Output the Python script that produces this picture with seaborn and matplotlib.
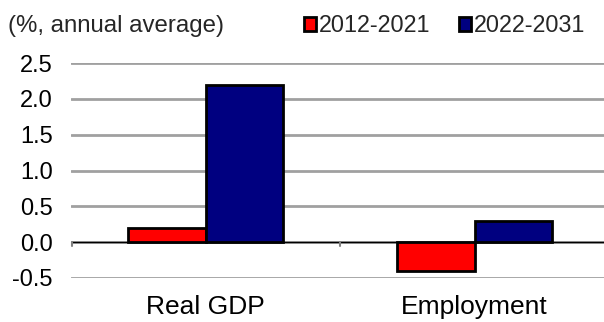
import matplotlib
matplotlib.use("Agg")
import matplotlib.pyplot as plt
import seaborn as sns
import pandas as pd

categories = ["Real GDP", "Employment"]
periods = ["2012-2021", "2022-2031"]
values_2012_2021 = [0.2, -0.4]
values_2022_2031 = [2.2, 0.3]
y_ticks = [-0.5, 0.0, 0.5, 1.0, 1.5, 2.0, 2.5]
colors = ["#FF0000", "#000080"]

df = pd.DataFrame({
    "category": categories * 2,
    "period": [periods[0]] * 2 + [periods[1]] * 2,
    "value": values_2012_2021 + values_2022_2031,
})

sns.set_theme(style="white")
plt.rcParams["font.family"] = ["Liberation Sans", "DejaVu Sans"]

fig = plt.figure(figsize=(6.04, 3.22), dpi=100)
ax = fig.add_axes([71 / 604, 44 / 322, 538 / 604, 215 / 322])

sns.barplot(data=df, x="category", y="value", hue="period", order=categories,
            hue_order=periods, palette=colors, saturation=1, width=0.575, gap=0,
            edgecolor="black", linewidth=2.0, ax=ax, legend=True, zorder=3)

ax.set_ylim(-0.5, 2.5)
ax.set_xlim(-0.5, 1.5)
ax.set_yticks(y_ticks)
ax.set_yticklabels([f"{v:.1f}" for v in y_ticks], fontsize=17, color="black")
ax.set_xticks([0, 1])
ax.set_xticklabels(categories, fontsize=19, color="black")
ax.tick_params(axis="x", length=0, pad=12)
ax.tick_params(axis="y", length=0, pad=13)
ax.set_xlabel("")
ax.set_ylabel("")
for s in ax.spines.values():
    s.set_visible(False)
ax.yaxis.grid(True, color="#A0A0A0", linewidth=2.0, zorder=0)
ax.set_axisbelow(True)
ax.axhline(0, color="black", linewidth=1.0, zorder=2)
# small separator ticks on the zero line
for xt in [-0.497, 0.5, 1.5]:
    ax.plot([xt, xt], [0, -0.06], color="#808080", linewidth=1.5, zorder=2, clip_on=False)

handles, labels = ax.get_legend_handles_labels()
ax.get_legend().remove()
fig.legend(handles, labels, loc="center left", bbox_to_anchor=(304 / 604, 1 - 26 / 322),
           ncol=2, frameon=False, fontsize=16.8, handlelength=0.5, handleheight=0.55,
           handletextpad=0.12, columnspacing=1.25, borderaxespad=0, borderpad=0)

fig.text(8 / 604, 1 - 26 / 322, "(%, annual average)", fontsize=17.3, va="center", ha="left")

fig.savefig("out.png", dpi=100)
